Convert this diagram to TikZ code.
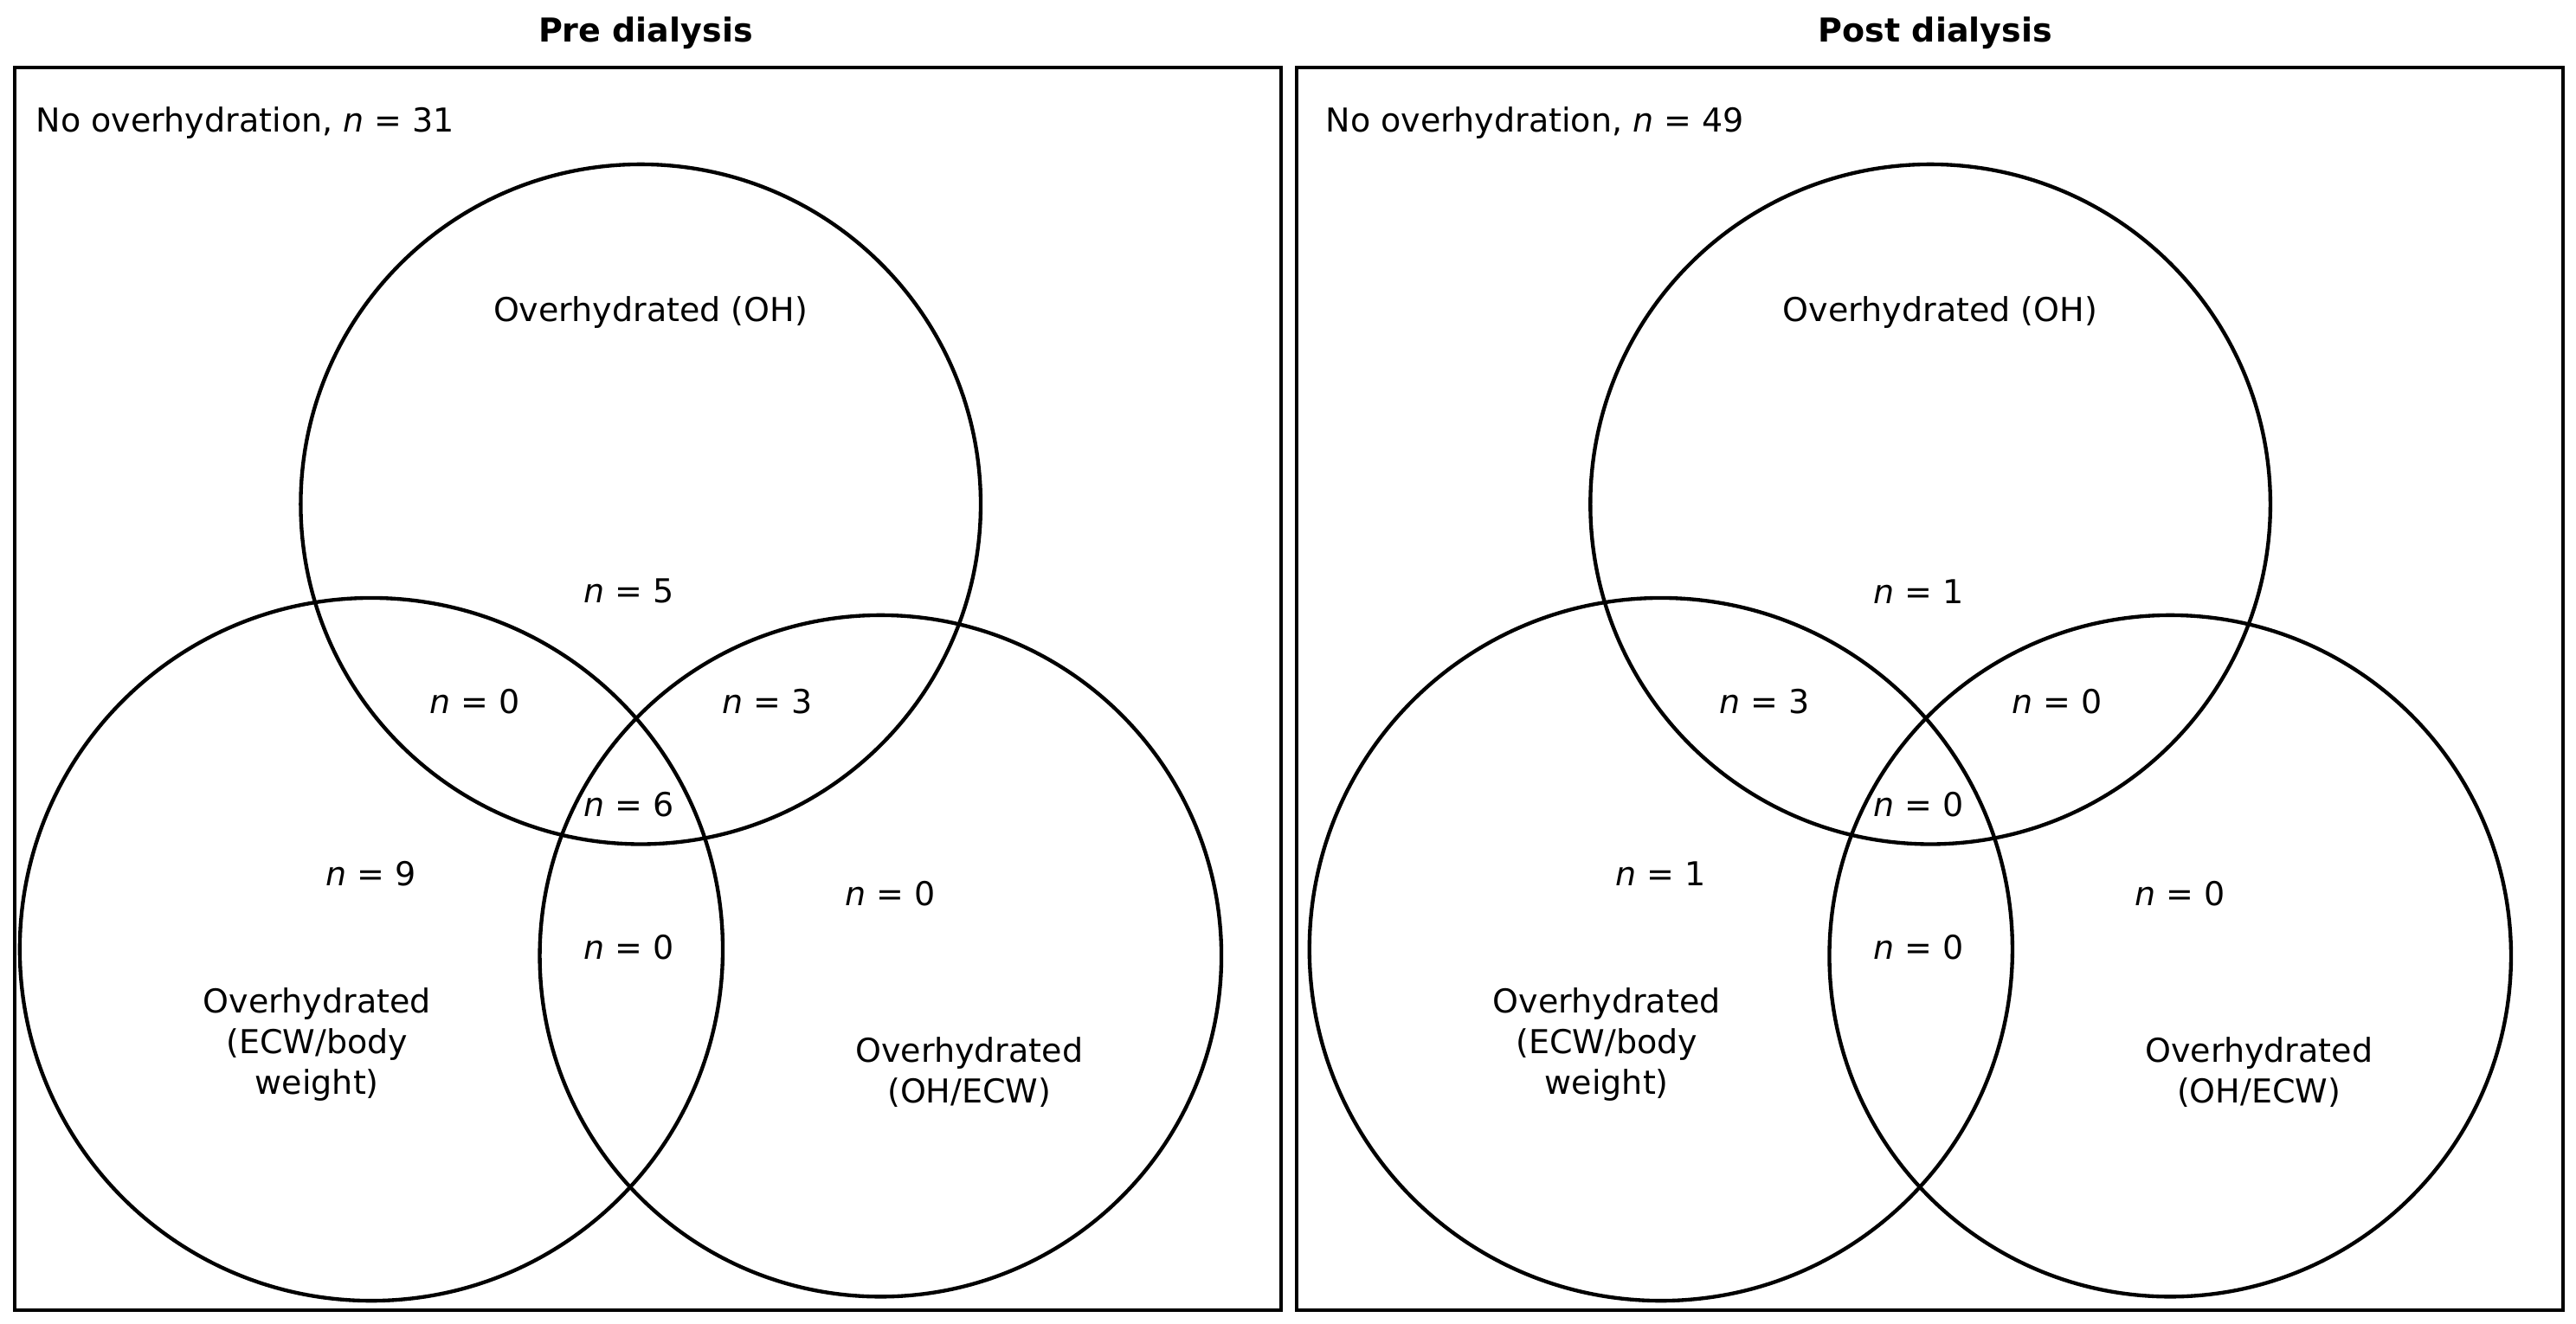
\documentclass[tikz,border=0pt]{standalone}
\usepackage{fontspec}
\setmainfont{DejaVu Sans}
\usetikzlibrary{positioning}

\begin{document}
\begin{tikzpicture}[
    x=0.02cm, y=-0.02cm,
    panel/.style={draw=black, line width=1.2pt},
    venn/.style={draw=black, line width=1.3pt},
    lbl/.style={font=\fontsize{11.4}{14}\selectfont, align=center, inner sep=1pt},
    title/.style={font=\fontsize{11.4}{14}\selectfont\bfseries}
]
    \useasboundingbox (0,0) rectangle (1568,806);

    % two panels: offset / box x / title / counts
    \foreach \p/\dx/\bx/\ttl/\none/\a/\ab/\ac/\abc/\b/\bc/\c in
        {pre/0/8/Pre dialysis/31/5/0/3/6/9/0/0,
         post/785/3/Post dialysis/49/1/3/0/0/1/0/0}{
    \begin{scope}[xshift=\dx*0.02cm]
        \node[panel, minimum width=15.42cm, minimum height=15.14cm, anchor=north west] (box-\p) at (\bx,40) {};
        \node[title] (title-\p) at (393,20) {\ttl};
        \node[lbl, anchor=west] (none-\p) at (20,75) {No overhydration, \textit{n} = \none};

        % circles
        \node[venn, circle, minimum size=8.28cm] (oh-\p) at (390,307) {};
        \node[venn, circle, minimum size=8.56cm] (ecw-\p) at (226,578) {};
        \node[venn, circle, minimum size=8.3cm] (ratio-\p) at (536,582) {};

        % labels
        \node[lbl] (ohname-\p) at (396,190) {Overhydrated (OH)};
        \node[lbl] (ecwname-\p) at (193,636) {Overhydrated\\(ECW/body\\weight)};
        \node[lbl] (rationame-\p) at (590,653) {Overhydrated\\(OH/ECW)};

        % counts
        \node[lbl] (na-\p) at (383,360) {\textit{n} = \a};
        \node[lbl] (nab-\p) at (289,427) {\textit{n} = \ab};
        \node[lbl] (nac-\p) at (467,427) {\textit{n} = \ac};
        \node[lbl] (nabc-\p) at (383,490) {\textit{n} = \abc};
        \node[lbl] (nb-\p) at (226,532) {\textit{n} = \b};
        \node[lbl] (nbc-\p) at (383,577) {\textit{n} = \bc};
        \node[lbl] (nc-\p) at (542,544) {\textit{n} = \c};
    \end{scope}
    }
\end{tikzpicture}
\end{document}
